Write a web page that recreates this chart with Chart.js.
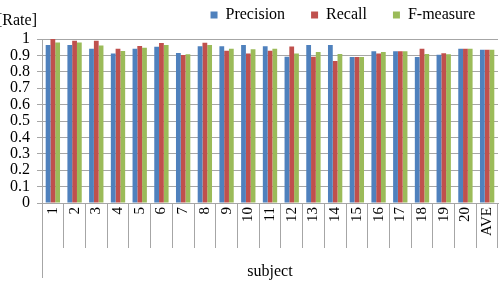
<!DOCTYPE html>
<html>
<head>
<meta charset="utf-8">
<script src="https://cdn.jsdelivr.net/npm/chart.js@4/dist/chart.umd.min.js"></script>
<style>
  html, body { margin: 0; padding: 0; background: #fff; }
  #chart { display: block; }
</style>
</head>
<body>
<canvas id="chart" width="504" height="289"></canvas>
<script>
const subjects = ["1", "2", "3", "4", "5", "6", "7", "8", "9", "10",
    "11", "12", "13", "14", "15", "16", "17", "18", "19", "20", "AVE"];

const precision = [0.963, 0.963, 0.940, 0.912, 0.940, 0.953, 0.914, 0.956, 0.956, 0.963,
    0.956, 0.892, 0.963, 0.963, 0.890, 0.926, 0.926, 0.891, 0.904, 0.940, 0.935];
const recall = [1.000, 0.990, 0.990, 0.940, 0.957, 0.975, 0.903, 0.977, 0.928, 0.911,
    0.928, 0.955, 0.892, 0.866, 0.890, 0.912, 0.926, 0.940, 0.913, 0.940, 0.935];
const fmeasure = [0.978, 0.978, 0.960, 0.927, 0.947, 0.963, 0.907, 0.964, 0.940, 0.937,
    0.940, 0.912, 0.921, 0.908, 0.890, 0.920, 0.926, 0.909, 0.907, 0.940, 0.935];

const y_ticks = [0, 0.1, 0.2, 0.3, 0.4, 0.5, 0.6, 0.7, 0.8, 0.9, 1];

const serif = "'Liberation Serif', 'Times New Roman', serif";
const grid_color = "#a6a6a6";

// extra pieces Excel draws: axis caption, long left rule, legend nudge
const extras = {
    id: "extras",
    beforeInit(chart) {
        const fit = chart.legend.fit;
        chart.legend.fit = function () {
            fit.call(this);
            this.height = 39;
        };
    },
    afterLayout(chart) {
        const lg = chart.legend;
        lg.top -= 19;
        lg.bottom -= 19;
        lg.left += 94;
        lg.right += 94;
    },
    afterDraw(chart) {
        const ctx = chart.ctx;
        const area = chart.chartArea;
        ctx.save();
        ctx.strokeStyle = grid_color;
        ctx.lineWidth = 1;
        ctx.beginPath();
        ctx.moveTo(area.left + 0.5, area.bottom);
        ctx.lineTo(area.left + 0.5, 278);
        ctx.stroke();
        ctx.fillStyle = "#000";
        ctx.font = "16px " + serif;
        ctx.textBaseline = "middle";
        ctx.textAlign = "left";
        ctx.fillText("[Rate]", -3, 21);
        ctx.restore();
    }
};

const draw_chart = () => {
    const ctx = document.getElementById("chart");

    new Chart(ctx, {
        type: "bar",
        data: {
            labels: subjects,
            datasets: [
                { label: "Precision", data: precision, backgroundColor: "#4f81bd" },
                { label: "Recall", data: recall, backgroundColor: "#c0504d" },
                { label: "F-measure", data: fmeasure, backgroundColor: "#9bbb59" }
            ]
        },
        options: {
            responsive: false,
            animation: false,
            layout: { padding: { left: 0, right: 6, top: 0, bottom: 0 } },
            datasets: {
                bar: { categoryPercentage: 0.66, barPercentage: 1.0, borderWidth: 0 }
            },
            plugins: {
                legend: {
                    position: "top",
                    align: "center",
                    labels: {
                        font: { family: serif, size: 16 },
                        color: "#000",
                        boxWidth: 7,
                        boxHeight: 7,
                        padding: 26
                    }
                },
                tooltip: { enabled: false }
            },
            scales: {
                x: {
                    offset: true,
                    grid: {
                        offset: true,
                        drawOnChartArea: false,
                        color: grid_color,
                        tickLength: 45
                    },
                    border: { color: grid_color },
                    ticks: {
                        minRotation: 90,
                        maxRotation: 90,
                        autoSkip: false,
                        padding: -41,
                        color: "#000",
                        font: { family: serif, size: 15 }
                    },
                    title: {
                        display: true,
                        text: "subject",
                        color: "#000",
                        font: { family: serif, size: 16 },
                        padding: { top: 0, bottom: 8 }
                    },
                    afterFit: (scale) => { scale.height = 86; }
                },
                y: {
                    min: 0,
                    max: 1,
                    afterBuildTicks: (scale) => {
                        scale.ticks = y_ticks.map(v => ({ value: v }));
                    },
                    grid: {
                        color: grid_color,
                        tickLength: 5
                    },
                    border: { color: grid_color },
                    ticks: {
                        autoSkip: false,
                        padding: 7,
                        color: "#000",
                        font: { family: serif, size: 16 },
                        callback: (v) => String(Math.round(v * 10) / 10)
                    },
                    afterFit: (scale) => { scale.width = 42; }
                }
            }
        },
        plugins: [extras]
    });
}

draw_chart();
</script>
</body>
</html>
